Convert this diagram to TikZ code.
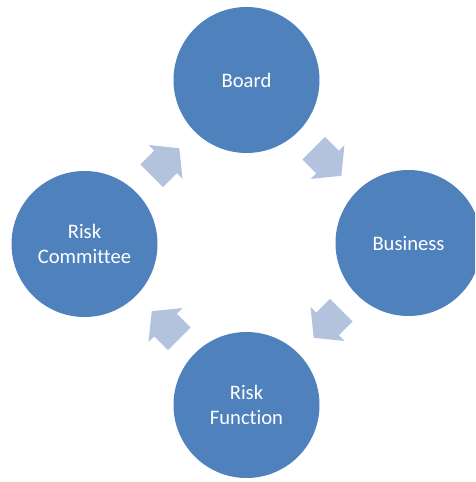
\documentclass[tikz,border=0pt]{standalone}
\usepackage{fontspec}
\setmainfont[Ligatures={NoCommon,NoRare,NoContextual}]{Carlito}
\definecolor{circblue}{HTML}{4F81BD}
\definecolor{arrowblue}{HTML}{B3C3DE}
\tikzset{
  stage/.style={circle, fill=circblue, draw=none, minimum size=146pt, inner sep=0pt,
    text=white, align=center, font=\fontsize{20.6}{25.5}\selectfont},
  blockarrow/.style={fill=arrowblue, draw=none}
}
\begin{document}
\begin{tikzpicture}[x=1pt,y=1pt]
\useasboundingbox (0,0) rectangle (475,482);
\clip (0,0) rectangle (475,482);
\fill[white] (0,0) rectangle (475,482);
\node[stage] (board) at (246.5,402) {Board};
\node[stage] (business) at (408.5,239) {Business};
\node[stage] (riskfn) at (246.5,77) {Risk\\Function};
\node[stage] (riskcom) at (84.5,238) {Risk\\Committee};
\foreach \cx/\cy/\ang in {165.5/320/45, 327.5/320/-45, 327.5/158/-135, 165.5/157/135}{
  \path[blockarrow, shift={(\cx,\cy)}, rotate=\ang]
    (-19.5,-16) -- (0,-16) -- (0,-24) -- (19.5,0) -- (0,24) -- (0,16) -- (-19.5,16) -- cycle;
}
\end{tikzpicture}
\end{document}
